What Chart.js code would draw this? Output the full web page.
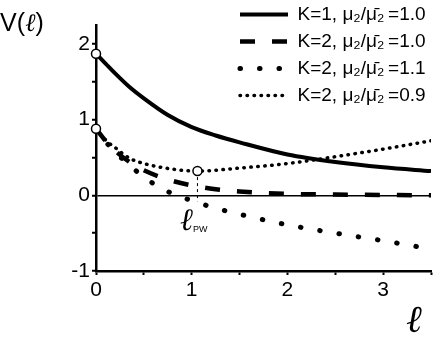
<!DOCTYPE html>
<html>
<head>
<meta charset="utf-8">
<script src="https://cdn.jsdelivr.net/npm/chart.js@4.4.0/dist/chart.umd.min.js"></script>
<style>
  html, body { margin: 0; padding: 0; background: #fff; }
  #wrap { position: relative; width: 441px; height: 337px; }
  #c { position: absolute; left: 0; top: 0; }
  .lbl { position: absolute; color: #000; white-space: nowrap; line-height: 1; font-family: "Liberation Sans", Arial, sans-serif; }
  .ell { font-family: "DejaVu Serif", serif; font-style: italic; }
  #vlab { left: 0; top: 10px; font-size: 25px; }
  #xlab { left: 406px; top: 300px; font-size: 38px; }
  #pw { left: 180px; top: 204px; font-size: 31px; }
  #pw sub { font-family: "Liberation Sans", Arial, sans-serif; font-style: normal; font-size: 9px; vertical-align: -2px; }
</style>
</head>
<body>
<div id="wrap">
  <canvas id="c" width="441" height="337"></canvas>
  <div class="lbl" id="vlab">V(<span class="ell">ℓ</span>)</div>
  <div class="lbl ell" id="xlab">ℓ</div>
  <div class="lbl" id="pw"><span class="ell">ℓ</span><sub>PW</sub></div>
</div>
<script>
// values
var xsA = [0, 0.1, 0.2, 0.35, 0.5, 0.75, 1.0, 1.25, 1.5, 2.0, 2.5, 3.0, 3.5];
var vK1 = [1.87, 1.74, 1.61, 1.43, 1.28, 1.06, 0.90, 0.79, 0.70, 0.54, 0.44, 0.37, 0.32];
var vK2eq = [0.88, 0.72, 0.59, 0.44, 0.33, 0.21, 0.13, 0.08, 0.05, 0.02, 0.01, 0.005, 0.0];
var vK2hi = [0.88, 0.71, 0.57, 0.40, 0.24, 0.05, -0.07, -0.17, -0.25, -0.39, -0.50, -0.60, -0.71];
var xsLo = [0, 0.1, 0.2, 0.35, 0.5, 0.75, 1.06, 1.5, 2.0, 2.5, 3.0, 3.5];
var vK2lo = [0.88, 0.73, 0.63, 0.49, 0.42, 0.355, 0.32, 0.36, 0.42, 0.51, 0.61, 0.72];

var names = ['K=1, μ₂/μ̄₂\u2009=1.0', 'K=2, μ₂/μ̄₂\u2009=1.0',
             'K=2, μ₂/μ̄₂\u2009=1.1', 'K=2, μ₂/μ̄₂\u2009=0.9'];

// open circles and the l_PW marker
var markX = [0, 0, 1.06];
var markY = [1.87, 0.88, 0.32];
var pwX = [1.06, 1.06];
var pwY = [0.32, -0.08];

var xMin = 0, xMax = 3.5, yMin = -1, yMax = 2.25;
var xTickVals = [0, 0.5, 1, 1.5, 2, 2.5, 3, 3.5];
var yTickVals = [-1, -0.5, 0, 0.5, 1, 1.5, 2];

function pts(xs, ys) {
    var out = [];
    for (var i = 0; i < xs.length; i++) out.push({x: xs[i], y: ys[i]});
    return out;
}

var font = '"Liberation Sans", Arial, sans-serif';

var legendMove = {
    id: 'legendMove',
    beforeDraw: function (chart) {
        var lg = chart.legend;
        var w = lg.width, h = lg.height;
        lg.left = 232; lg.top = -3;
        lg.right = lg.left + w; lg.bottom = lg.top + h;
    }
};

var ctx = document.getElementById('c').getContext('2d');
var myChart = new Chart(ctx, {
    type: 'line',
    data: {
        datasets: [{
            label: names[0],
            data: pts(xsA, vK1),
            borderColor: '#000',
            borderWidth: 4,
            pointRadius: 0,
            cubicInterpolationMode: 'monotone'
        }, {
            label: names[1],
            data: pts(xsA, vK2eq),
            borderColor: '#000',
            borderWidth: 4.5,
            borderDash: [15, 17],
            pointRadius: 0,
            cubicInterpolationMode: 'monotone'
        }, {
            label: names[2],
            data: pts(xsA, vK2hi),
            borderColor: '#000',
            borderWidth: 5,
            borderDash: [0.5, 19],
            borderCapStyle: 'round',
            pointRadius: 0,
            cubicInterpolationMode: 'monotone'
        }, {
            label: names[3],
            data: pts(xsLo, vK2lo),
            borderColor: '#000',
            borderWidth: 3.5,
            borderDash: [0.5, 6.5],
            borderCapStyle: 'round',
            pointRadius: 0,
            cubicInterpolationMode: 'monotone'
        }, {
            label: 'pw',
            data: pts(pwX, pwY),
            borderColor: '#000',
            borderWidth: 1,
            borderDash: [3, 3],
            pointRadius: 0,
            order: -1
        }, {
            label: 'marks',
            data: pts(markX, markY),
            showLine: false,
            clip: false,
            pointRadius: 4.5,
            pointBackgroundColor: '#fff',
            pointBorderColor: '#000',
            pointBorderWidth: 1.5,
            order: -2
        }]
    },
    options: {
        responsive: false,
        animation: false,
        layout: { padding: { left: 0, right: 10, top: 25, bottom: 0 } },
        plugins: {
            tooltip: { enabled: false },
            legend: {
                position: 'chartArea',
                align: 'start',
                labels: {
                    usePointStyle: true,
                    pointStyle: 'line',
                    pointStyleWidth: 48,
                    boxWidth: 48,
                    padding: 8,
                    color: '#000',
                    font: { family: font, size: 19 },
                    filter: function (item) { return item.datasetIndex < 4; },
                    generateLabels: function (chart) {
                        var items = Chart.defaults.plugins.legend.labels.generateLabels(chart);
                        items.forEach(function (it) {
                            var ds = chart.data.datasets[it.datasetIndex];
                            it.lineDash = ds.borderDash || [];
                            it.lineWidth = ds.borderWidth;
                            it.lineCap = ds.borderCapStyle || 'butt';
                            it.strokeStyle = '#000';
                            it.fillStyle = '#000';
                        });
                        return items;
                    }
                }
            }
        },
        scales: {
            x: {
                type: 'linear',
                min: xMin, max: xMax,
                afterFit: function (scale) { scale.height = 66; },
                afterBuildTicks: function (scale) {
                    scale.ticks = xTickVals.map(function (v) { return {value: v}; });
                },
                border: { display: true, color: '#000', width: 2.5 },
                grid: { drawOnChartArea: false, tickColor: '#000', tickLength: 4, tickWidth: 2 },
                ticks: {
                    autoSkip: false, maxRotation: 0, padding: 3,
                    color: '#000', font: { family: font, size: 21 },
                    callback: function (v) { return Number.isInteger(v) ? String(v) : ''; }
                }
            },
            y: {
                min: yMin, max: yMax,
                afterFit: function (scale) { scale.width = 96; },
                afterBuildTicks: function (scale) {
                    scale.ticks = yTickVals.map(function (v) { return {value: v}; });
                },
                border: { display: true, color: '#000', width: 2.5 },
                grid: {
                    color: function (c) { return c.tick && c.tick.value === 0 ? '#000' : 'rgba(0,0,0,0)'; },
                    lineWidth: 1.5,
                    tickColor: '#000', tickLength: 4, tickWidth: 2
                },
                ticks: {
                    autoSkip: false, padding: 2,
                    color: '#000', font: { family: font, size: 21 },
                    callback: function (v) { return Number.isInteger(v) ? String(v) : ''; }
                }
            }
        }
    },
    plugins: [legendMove]
});
</script>
</body>
</html>
